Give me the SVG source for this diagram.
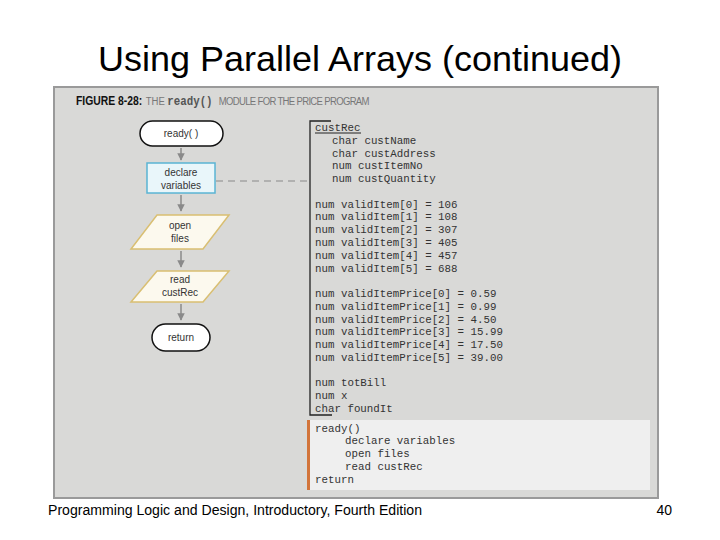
<svg xmlns="http://www.w3.org/2000/svg" width="720" height="540" viewBox="0 0 720 540">
<defs>
<marker id="ah" viewBox="0 0 10 10" refX="9" refY="5" markerWidth="5" markerHeight="5" orient="auto">
<path d="M0,0 L10,5 L0,10 z" fill="#8a8a8a"/>
</marker>
<style>
.title{font-family:"Liberation Sans",Arial,sans-serif;font-size:35px;fill:#000}
.foot{font-family:"Liberation Sans",Arial,sans-serif;font-size:14px;fill:#000}
.code{font-family:"Liberation Mono","Courier New",monospace;font-size:10.8px;fill:#333}
.fc{font-family:"Liberation Sans",Arial,sans-serif;font-size:10px;fill:#333;text-anchor:middle}
.term{fill:#fff;stroke:#111;stroke-width:1.5}
.proc{fill:#e9f6fa;stroke:#5ab4d4;stroke-width:1.5}
.io{fill:#fcf9ee;stroke:#d9bf72;stroke-width:1.5}
.arr{stroke:#8a8a8a;stroke-width:1.5;fill:none;marker-end:url(#ah)}
</style>
</defs>
<rect width="720" height="540" fill="#fff"/>
<text class="title" x="360" y="71" text-anchor="middle" textLength="524" lengthAdjust="spacingAndGlyphs">Using Parallel Arrays (continued)</text>
<rect x="54" y="87" width="604" height="411" fill="#d9d9d7" stroke="#9a9a9a" stroke-width="2"/>
<text transform="translate(76,105) scale(0.83,1)" font-family="'Liberation Sans',Arial,sans-serif" font-size="11.5" fill="#777"><tspan x="0" y="0" font-weight="bold" fill="#111" font-size="12.5">FIGURE 8-28:</tspan><tspan x="84" y="0">THE</tspan><tspan x="110" y="0" font-family="'Liberation Mono',monospace" font-weight="bold" fill="#555" font-size="13">ready()</tspan><tspan x="172" y="0" letter-spacing="-0.8">MODULE FOR THE PRICE PROGRAM</tspan></text>

<g id="connectors">
<line class="arr" x1="181" y1="148" x2="181" y2="160"/>
<line class="arr" x1="181" y1="195" x2="181" y2="211"/>
<line class="arr" x1="181" y1="251" x2="181" y2="267"/>
<line class="arr" x1="181" y1="304" x2="181" y2="320"/>
<line x1="216" y1="181" x2="310" y2="181" stroke="#8a8a8a" stroke-width="1.2" stroke-dasharray="7,5"/>
</g>

<g id="n-ready">
<rect class="term" x="140" y="121" width="83" height="25" rx="12.5"/>
<text class="fc" x="181" y="137">ready( )</text>
</g>
<g id="n-declare">
<rect class="proc" x="147" y="163" width="68" height="30"/>
<text class="fc" x="181" y="176">declare</text>
<text class="fc" x="181" y="189">variables</text>
</g>
<g id="n-open">
<polygon class="io" points="157,215 229,215 203,249 131,249"/>
<text class="fc" x="180" y="229">open</text>
<text class="fc" x="180" y="242">files</text>
</g>
<g id="n-read">
<polygon class="io" points="157,271 229,271 203,302 131,302"/>
<text class="fc" x="180" y="283">read</text>
<text class="fc" x="180" y="296">custRec</text>
</g>
<g id="n-return">
<rect class="term" x="152" y="324" width="58" height="27" rx="13.5"/>
<text class="fc" x="181" y="341">return</text>
</g>

<g id="declarations">
<path d="M331,121 H310 V415 H332" fill="none" stroke="#222" stroke-width="1.3"/>
<text class="code" x="315" y="131">custRec</text>
<line x1="315" y1="133" x2="361" y2="133" stroke="#222" stroke-width="1"/>
<text class="code" x="332" y="144">char custName</text>
<text class="code" x="332" y="157">char custAddress</text>
<text class="code" x="332" y="169">num custItemNo</text>
<text class="code" x="332" y="182">num custQuantity</text>
<text class="code" x="315" y="208">num validItem[0] = 106</text>
<text class="code" x="315" y="220">num validItem[1] = 108</text>
<text class="code" x="315" y="233">num validItem[2] = 307</text>
<text class="code" x="315" y="246">num validItem[3] = 405</text>
<text class="code" x="315" y="259">num validItem[4] = 457</text>
<text class="code" x="315" y="272">num validItem[5] = 688</text>
<text class="code" x="315" y="297">num validItemPrice[0] = 0.59</text>
<text class="code" x="315" y="310">num validItemPrice[1] = 0.99</text>
<text class="code" x="315" y="323">num validItemPrice[2] = 4.50</text>
<text class="code" x="315" y="335">num validItemPrice[3] = 15.99</text>
<text class="code" x="315" y="348">num validItemPrice[4] = 17.50</text>
<text class="code" x="315" y="361">num validItemPrice[5] = 39.00</text>
<text class="code" x="315" y="386">num totBill</text>
<text class="code" x="315" y="399">num x</text>
<text class="code" x="315" y="412">char foundIt</text>
</g>

<g id="pseudocode">
<rect x="307" y="420" width="343" height="70" fill="#efefef"/>
<rect x="307" y="420" width="3" height="70" fill="#d2743a"/>
<text class="code" x="315" y="432">ready()</text>
<text class="code" x="345" y="444">declare variables</text>
<text class="code" x="345" y="457">open files</text>
<text class="code" x="345" y="470">read custRec</text>
<text class="code" x="315" y="483">return</text>
</g>

<text class="foot" x="48" y="515" textLength="374" lengthAdjust="spacingAndGlyphs">Programming Logic and Design, Introductory, Fourth Edition</text>
<text class="foot" x="672" y="515" text-anchor="end">40</text>
</svg>
